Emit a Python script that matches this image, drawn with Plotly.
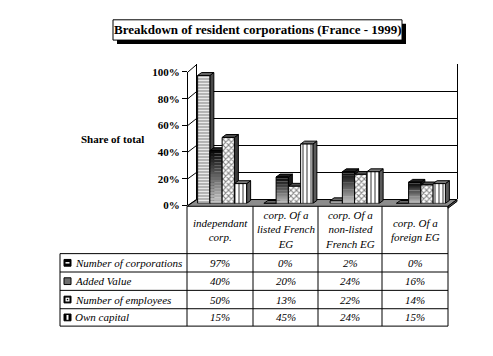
import plotly.graph_objects as go

# ---------------- data ----------------
categories = ["independant<br>corp.", "corp. Of a<br>listed French<br>EG",
              "corp. Of a<br>non-listed<br>French EG", "corp. Of a<br>foreign EG"]
series_names = ["Number of corporations", "Added Value", "Number of employees", "Own capital"]
number_of_corporations = [97, 0, 2, 0]
added_value = [40, 20, 24, 16]
number_of_employees = [50, 13, 22, 14]
own_capital = [15, 45, 24, 15]
tick_values = [0, 20, 40, 60, 80, 100]
tick_labels = ["0%", "20%", "40%", "60%", "80%", "100%"]
title_text = "Breakdown of resident corporations (France - 1999)"
axis_title = "Share of total"

series_values = [number_of_corporations, added_value, number_of_employees, own_capital]

# ---------------- layout helpers ----------------
W, H = 493, 356
OX, OY = -8, -8     # compensate the page's default body margin
def px(x):
    return (x + OX) / W
def py(y):
    return 1 - (y + OY) / H

SERIF = "Liberation Serif"
xs = list(range(len(categories)))
bw = 0.185          # bar width in category units
dx = 0.06           # 3D depth (x, data units)
dy = 2.2            # 3D depth (y, data units)

fig = go.Figure()

# invisible anchors so the helper subplots get drawn
fig.add_trace(go.Scatter(x=[0], y=[0], mode="markers", marker=dict(opacity=0),
                         xaxis="x", yaxis="y", showlegend=False, hoverinfo="skip"))
fig.add_trace(go.Scatter(x=[0], y=[0], mode="markers", marker=dict(opacity=0),
                         xaxis="x3", yaxis="y3", showlegend=False, hoverinfo="skip"))

# ---------------- bars ----------------
def offs(k):
    return -2 * bw + k * bw

patterns = {0: dict(shape="-", size=3, solidity=0.45),
            2: dict(shape="x", size=4, solidity=0.45),
            3: dict(shape="|", size=4, solidity=0.4)}

for k, vals in enumerate(series_values):
    if k == 1:
        N = 18
        for i in range(N):
            t = i / (N - 1)
            c = int(195 - t * 185)
            fig.add_trace(go.Bar(x=xs, y=[v / N for v in vals], base=[v * i / N for v in vals],
                                 width=bw, offset=offs(k), xaxis="x2", yaxis="y2",
                                 marker=dict(color=f"rgb({c},{c},{c})", line=dict(width=0)),
                                 showlegend=False, hoverinfo="skip"))
        fig.add_trace(go.Bar(x=xs, y=vals, width=bw, offset=offs(k), xaxis="x2", yaxis="y2",
                             marker=dict(color="rgba(0,0,0,0)", line=dict(color="black", width=1)),
                             name=series_names[k], showlegend=False))
    else:
        p = patterns[k]
        fig.add_trace(go.Bar(x=xs, y=vals, width=bw, offset=offs(k), xaxis="x2", yaxis="y2",
                             marker=dict(color="white",
                                         pattern=dict(shape=p["shape"], fgcolor="black", bgcolor="white",
                                                      size=p["size"], solidity=p["solidity"]),
                                         line=dict(color="black", width=1)),
                             name=series_names[k], showlegend=False))

shapes = []

# ---------------- floor, walls ----------------
shapes.append(dict(type="path", xref="paper", yref="paper", layer="below",
                   path=f"M{px(187)},{py(207)} L{px(448)},{py(207)} L{px(457)},{py(200)} L{px(197)},{py(200)} Z",
                   fillcolor="#8c8c8c", line=dict(color="black", width=1)))
shapes.append(dict(type="path", xref="paper", yref="paper", layer="below",
                   path=f"M{px(448)},{py(207)} L{px(448)},{py(209)} L{px(457)},{py(202)} L{px(457)},{py(200)} Z",
                   fillcolor="#555555", line=dict(color="black", width=1)))
# left-wall diagonals joining front axis ticks to back wall gridlines
for tv in tick_values:
    yf = 206 - tv / 100 * 138
    yb = 199.5 - tv / 100 * 139.5
    shapes.append(dict(type="line", xref="paper", yref="paper", layer="below",
                       x0=px(188), y0=py(yf), x1=px(197), y1=py(yb),
                       line=dict(color="black", width=1)))

# ---------------- 3D faces of bars ----------------
side_cols = ["#4a4a4a", "#1a1a1a", "#3a3a3a", "#5a5a5a"]
top_cols = ["#6a6a6a", "#202020", "#505050", "#7a7a7a"]
for i in xs:
    for k, vals in enumerate(series_values):
        v = vals[i]
        x0 = i + offs(k)
        x1 = x0 + bw
        shapes.append(dict(type="path", xref="x2", yref="y2", layer="below",
                           path=f"M{x1},0 L{x1+dx},{dy} L{x1+dx},{v+dy} L{x1},{v} Z",
                           fillcolor=side_cols[k], line=dict(color="black", width=1)))
        shapes.append(dict(type="path", xref="x2", yref="y2", layer="below",
                           path=f"M{x0},{v} L{x0+dx},{v+dy} L{x1+dx},{v+dy} L{x1},{v} Z",
                           fillcolor=top_cols[k], line=dict(color="black", width=1)))

# ---------------- title box ----------------
shapes.append(dict(type="rect", xref="paper", yref="paper", layer="above",
                   x0=px(117), y0=py(39), x1=px(406), y1=py(18),
                   fillcolor="black", line=dict(width=0)))
shapes.append(dict(type="rect", xref="paper", yref="paper", layer="above",
                   x0=px(113), y0=py(35), x1=px(402), y1=py(14),
                   fillcolor="white", line=dict(color="black", width=1)))

# ---------------- table grid ----------------
col_edges = [187, 253, 318, 382, 448]
row_edges = [256, 275, 294, 313, 331]
tab_left = 60
def hline(x0, x1, y):
    shapes.append(dict(type="line", xref="paper", yref="paper", layer="above",
                       x0=px(x0), x1=px(x1), y0=py(y), y1=py(y), line=dict(color="black", width=1)))
def vline(x, y0, y1):
    shapes.append(dict(type="line", xref="paper", yref="paper", layer="above",
                       x0=px(x), x1=px(x), y0=py(y0), y1=py(y1), line=dict(color="black", width=1)))
for ce in col_edges:
    vline(ce, 207, row_edges[-1])
vline(tab_left, row_edges[0], row_edges[-1])
for re_ in row_edges:
    hline(tab_left, col_edges[-1], re_)

annotations = []
# header texts
for j, cat in enumerate(categories):
    annotations.append(dict(x=px((col_edges[j] + col_edges[j + 1]) / 2), y=py(231.5),
                            xref="paper", yref="paper", text=cat, showarrow=False,
                            xanchor="center", yanchor="middle", align="center",
                            font=dict(family=SERIF, size=11, style="italic", color="black")))
# rows
for r, (name, vals) in enumerate(zip(series_names, series_values)):
    yc = (row_edges[r] + row_edges[r + 1]) / 2
    annotations.append(dict(x=px(73), y=py(yc), xref="paper", yref="paper", text=name,
                            showarrow=False, xanchor="left", yanchor="middle",
                            font=dict(family=SERIF, size=11, style="italic", color="black")))
    for j, v in enumerate(vals):
        annotations.append(dict(x=px((col_edges[j] + col_edges[j + 1]) / 2), y=py(yc),
                                xref="paper", yref="paper", text=f"{v}%", showarrow=False,
                                xanchor="center", yanchor="middle",
                                font=dict(family=SERIF, size=11, style="italic", color="black")))
    # legend key icon
    shapes.append(dict(type="rect", xref="paper", yref="paper", layer="above",
                       x0=px(64), x1=px(71), y0=py(yc + 3.5), y1=py(yc - 3.5),
                       fillcolor=["black", "#6e6e6e", "black", "black"][r],
                       line=dict(color="black", width=1)))
    if r == 0:
        shapes.append(dict(type="line", xref="paper", yref="paper", layer="above",
                           x0=px(65.5), x1=px(69.5), y0=py(yc), y1=py(yc),
                           line=dict(color="white", width=1.5)))
    elif r == 2:
        shapes.append(dict(type="rect", xref="paper", yref="paper", layer="above",
                           x0=px(65.5), x1=px(69.5), y0=py(yc + 2), y1=py(yc - 2),
                           fillcolor="white", line=dict(width=0)))
        shapes.append(dict(type="rect", xref="paper", yref="paper", layer="above",
                           x0=px(66.8), x1=px(68.2), y0=py(yc + 0.7), y1=py(yc - 0.7),
                           fillcolor="black", line=dict(width=0)))
    elif r == 3:
        shapes.append(dict(type="line", xref="paper", yref="paper", layer="above",
                           x0=px(67.5), x1=px(67.5), y0=py(yc + 2.5), y1=py(yc - 2.5),
                           line=dict(color="white", width=2)))

# title + axis title
annotations.append(dict(x=px(257.5), y=py(24.5), xref="paper", yref="paper", text=title_text,
                        showarrow=False, xanchor="center", yanchor="middle",
                        font=dict(family=SERIF, size=13, weight="bold", color="black")))
annotations.append(dict(x=px(112), y=py(137), xref="paper", yref="paper", text=axis_title,
                        showarrow=False, xanchor="center", yanchor="middle",
                        font=dict(family=SERIF, size=11, weight="bold", color="black")))

fig.update_layout(
    width=W, height=H, margin=dict(l=0, r=0, t=0, b=0),
    paper_bgcolor="white", plot_bgcolor="rgba(0,0,0,0)",
    barmode="overlay", showlegend=False,
    shapes=shapes, annotations=annotations,
    # back wall
    xaxis=dict(domain=[px(197), px(457)], range=[0, 1], visible=False, fixedrange=True),
    yaxis=dict(domain=[py(199.5), py(60)], range=[0, 100], tickvals=tick_values,
               showticklabels=False, ticks="", showgrid=True, gridcolor="black", gridwidth=1,
               showline=True, mirror=True, linecolor="black", linewidth=1, zeroline=False,
               anchor="x", fixedrange=True),
    # bars
    xaxis2=dict(domain=[px(189), px(454)], range=[-0.5, 3.5], visible=False, anchor="y2",
                fixedrange=True),
    yaxis2=dict(domain=[py(204), py(67.5)], range=[0, 100], visible=False, anchor="x2",
                fixedrange=True),
    # front value axis
    xaxis3=dict(domain=[px(188), px(448)], range=[0, 1], visible=False, anchor="y3",
                fixedrange=True),
    yaxis3=dict(domain=[py(206), py(68)], range=[0, 100], tickvals=tick_values, ticktext=tick_labels,
                ticks="outside", ticklen=5, tickcolor="black", showline=True, linecolor="black",
                linewidth=1, showgrid=False, zeroline=False, anchor="x3", fixedrange=True,
                tickfont=dict(family=SERIF, size=11, weight="bold", color="black")),
)

fig.write_html("out.html")
